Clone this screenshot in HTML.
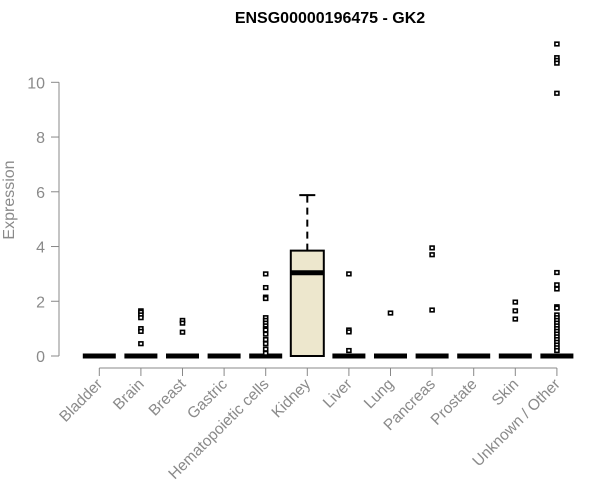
<!DOCTYPE html>
<html><head><meta charset="utf-8"><style>
body{margin:0;background:#fff;font-family:"Liberation Sans",Arial,sans-serif}
svg{display:block}
</style></head><body>
<svg width="600" height="500" xmlns="http://www.w3.org/2000/svg">
<text x="330" y="23" text-anchor="middle" font-weight="bold" font-size="16" fill="#000">ENSG00000196475 - GK2</text>
<text transform="translate(14,200) rotate(-90)" text-anchor="middle" font-size="16" fill="#8a8a8a">Expression</text>
<g id="yaxis"></g>
<g id="xaxis"></g>
<g id="plot"></g>
</svg>
<script>
const categories=["Bladder","Brain","Breast","Gastric","Hematopoietic cells","Kidney","Liver","Lung","Pancreas","Prostate","Skin","Unknown / Other"];
const q1=[0,0,0,0,0,0,0,0,0,0,0,0];
const medians=[0,0,0,0,0,3.04,0,0,0,0,0,0];
const q3=[0,0,0,0,0,3.85,0,0,0,0,0,0];
const whiskerLow=[0,0,0,0,0,0,0,0,0,0,0,0];
const whiskerHigh=[0,0,0,0,0,5.88,0,0,0,0,0,0];
const outliers=[[],[1.65,1.6,1.5,1.4,1.0,0.9,0.45],[1.3,1.2,0.87],[],
[3.0,2.5,2.15,2.1,1.4,1.3,1.2,1.1,1.0,0.95,0.8,0.6,0.45,0.25,0.1],[],
[3.0,0.95,0.88,0.2],[1.57],[3.95,3.7,1.68],[],[1.97,1.65,1.35],
[11.4,10.9,10.8,10.7,9.6,3.05,2.6,2.45,1.8,1.75,1.5,1.4,1.3,1.2,1.1,1.0,0.9,0.8,0.7,0.6,0.5,0.4,0.3,0.2]];
const yTicks=[0,2,4,6,8,10];
const NS="http://www.w3.org/2000/svg";
const y=v=>356-v*27.37;
const x=i=>99.3+i*41.6;
function mk(tag,attrs,parent){const e=document.createElementNS(NS,tag);for(const k in attrs)e.setAttribute(k,attrs[k]);parent.appendChild(e);return e;}
const ya=document.getElementById('yaxis'),xa=document.getElementById('xaxis'),pl=document.getElementById('plot');
mk('line',{x1:59,x2:59,y1:y(0),y2:y(10),stroke:'#888'},ya);
yTicks.forEach(t=>{
 let tk=mk('line',{x1:51,x2:59,y1:y(t),y2:y(t),stroke:'#888'},ya);
 
 
 let tx=mk('text',{x:45,y:y(t)+6,'text-anchor':'end','font-size':16,fill:'#8a8a8a'},ya);
 tx.textContent=t;
 
 
});
mk('line',{x1:x(0),x2:x(categories.length-1),y1:368,y2:368,stroke:'#888'},xa);
categories.forEach((c,i)=>{
 let tk=mk('line',{x1:x(i),x2:x(i),y1:368,y2:376,stroke:'#888'},xa);
 
 
 let tx=mk('text',{'text-anchor':'end','font-size':15.5,fill:'#8a8a8a',transform:`translate(${x(i)+4},385) rotate(-45)`},xa);
 tx.textContent=c;
 
 
 const g=mk('g',{},pl);
 
 
 const cx=x(i),hw=16.5;
 if(whiskerHigh[i]>q3[i]){
  mk('line',{x1:cx,x2:cx,y1:y(q3[i]),y2:y(whiskerHigh[i]),stroke:'#000','stroke-width':2,'stroke-dasharray':'7,5'},g);
  mk('line',{x1:cx-8,x2:cx+8,y1:y(whiskerHigh[i]),y2:y(whiskerHigh[i]),stroke:'#000','stroke-width':2},g);
 }
 if(q3[i]>q1[i]){
  mk('rect',{x:cx-hw,y:y(q3[i]),width:hw*2,height:y(q1[i])-y(q3[i]),fill:'#ede7cd',stroke:'#000','stroke-width':2},g);
 }
 mk('line',{x1:cx-hw,x2:cx+hw,y1:y(medians[i]),y2:y(medians[i]),stroke:'#000','stroke-width':5},g);
 outliers[i].forEach(v=>{
  let p=mk('rect',{x:cx-2,y:y(v)-1.8,width:4,height:3.6,fill:'#fff',stroke:'#000','stroke-width':1.6},g);
  
  
 });
});
</script>
</body></html>
